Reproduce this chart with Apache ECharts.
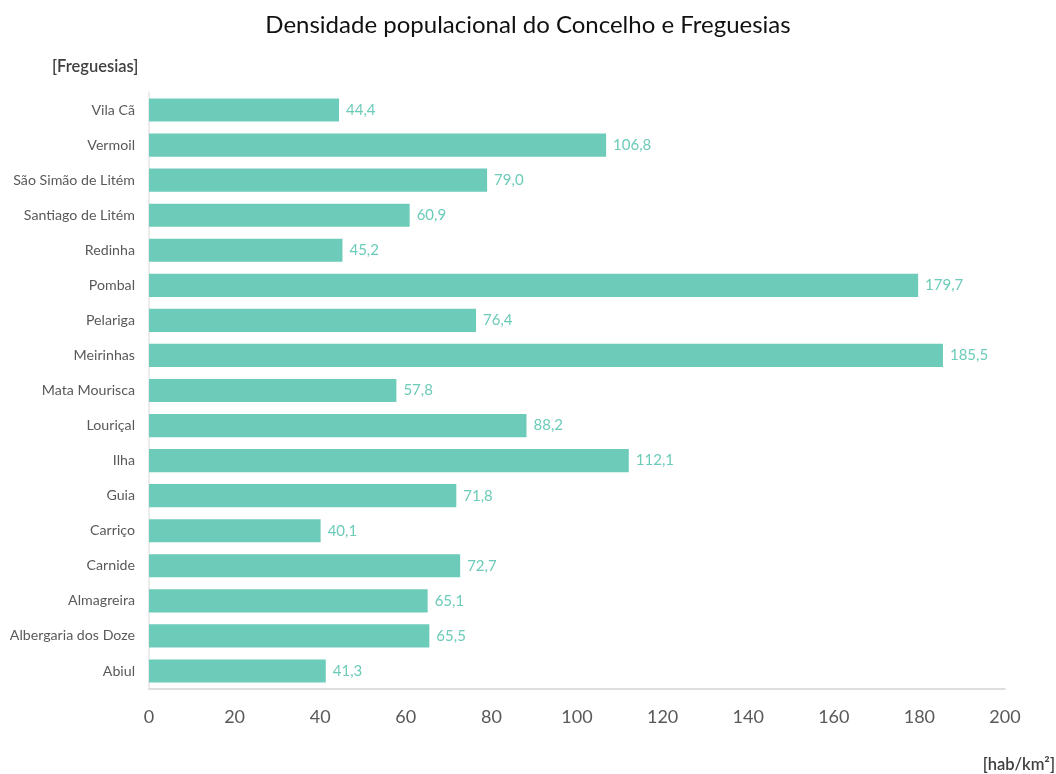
<!DOCTYPE html>
<html>
<head>
<meta charset="utf-8">
<style>
  html, body { margin: 0; padding: 0; background: #ffffff; }
  #chart { width: 1056px; height: 774px; }
</style>
<script src="https://cdn.jsdelivr.net/npm/echarts@6/dist/echarts.min.js"></script>
</head>
<body>
<div id="chart"></div>
<script>
// Freguesias, listed bottom to top on the category axis
const freguesias = [
  'Abiul', 'Albergaria dos Doze', 'Almagreira', 'Carnide', 'Carriço', 'Guia',
  'Ilha', 'Louriçal', 'Mata Mourisca', 'Meirinhas', 'Pelariga', 'Pombal',
  'Redinha', 'Santiago de Litém', 'São Simão de Litém', 'Vermoil', 'Vila Cã'
];
// Population density (hab/km²)
const densidade = [
  41.3, 65.5, 65.1, 72.7, 40.1, 71.8,
  112.1, 88.2, 57.8, 185.5, 76.4, 179.7,
  45.2, 60.9, 79.0, 106.8, 44.4
];
const xTicks = { min: 0, max: 200, interval: 20 };

const FONT = 'Lato, "Open Sans", sans-serif';
const TEAL = '#6ccbb9';

const chart = echarts.init(document.getElementById('chart'), null, { renderer: 'canvas' });

chart.setOption({
  animation: false,
  backgroundColor: '#ffffff',
  title: {
    text: 'Densidade populacional do Concelho e Freguesias',
    left: 'center',
    top: 8,
    textStyle: { fontFamily: FONT, fontSize: 24, fontWeight: 'normal', color: '#111111' }
  },
  grid: { left: 149, right: 51, top: 92.5, bottom: 85.5, containLabel: false },
  xAxis: {
    type: 'value',
    min: xTicks.min,
    max: xTicks.max,
    interval: xTicks.interval,
    axisLine: { show: true, lineStyle: { color: '#d4d4d4', width: 1.5 } },
    axisTick: { show: false },
    splitLine: { show: false },
    axisLabel: { margin: 20, fontFamily: FONT, fontSize: 18, color: '#595959' }
  },
  yAxis: {
    type: 'category',
    data: freguesias,
    axisLine: { show: true, lineStyle: { color: '#ececec', width: 2 } },
    axisTick: { show: false },
    axisLabel: { margin: 14, fontFamily: FONT, fontSize: 14.2, color: '#595959' }
  },
  series: [{
    type: 'bar',
    data: densidade,
    barWidth: '66%',
    itemStyle: { color: TEAL },
    label: {
      show: true,
      position: 'right',
      distance: 7,
      fontFamily: FONT,
      fontSize: 15,
      color: TEAL,
      formatter: p => p.value.toFixed(1).replace('.', ',')
    }
  }],
  graphic: [
    {
      type: 'text', left: 52, top: 58,
      style: { text: '[Freguesias]', fontFamily: FONT, fontSize: 16.5, fontWeight: 600, fill: '#404040' }
    },
    {
      type: 'text', right: 1, top: 756,
      style: { text: '[hab/km²]', fontFamily: FONT, fontSize: 16.5, fontWeight: 600, fill: '#404040' }
    }
  ]
});
</script>
</body>
</html>
